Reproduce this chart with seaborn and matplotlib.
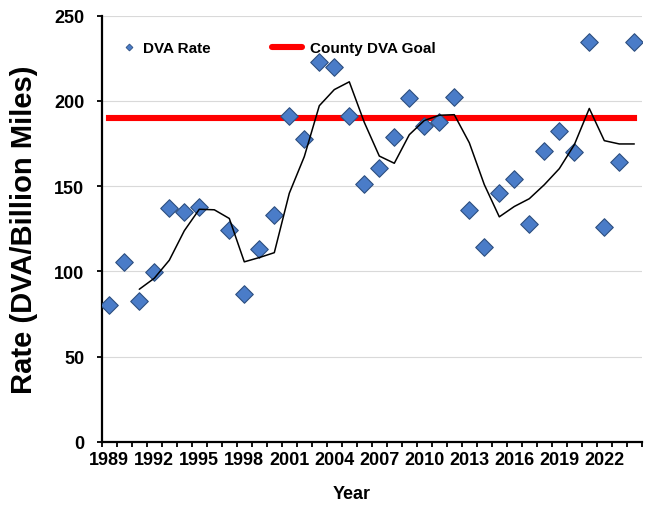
import numpy as np
import pandas as pd
import matplotlib
matplotlib.use("Agg")
import matplotlib.pyplot as plt
from matplotlib.lines import Line2D
import seaborn as sns

# ---- data ----
years = list(range(1989, 2025))
dva_rate = [80.4, 105.3, 82.7, 99.8, 137.0, 134.6, 137.6, np.nan, 124.4, 86.7,
            113.1, 133.0, 191.3, 177.6, 222.6, 219.7, 191.3, 151.2, 160.4, 178.6,
            201.5, 185.4, 187.8, 202.5, 136.0, 114.1, 145.8, 154.2, 127.8, 170.4,
            182.5, 169.8, 234.4, 125.8, 164.0, 234.4]
goal_value = 190
label_years = list(range(1989, 2023, 3))
y_ticks = [0, 50, 100, 150, 200, 250]

df = pd.DataFrame({"Year": years, "Rate": dva_rate})
# 3-period moving average trendline (as in the source chart)
df["MA"] = df["Rate"].rolling(3, min_periods=1).mean()
ma_df = df.iloc[2:]

sns.set_style("white")
plt.rcParams["font.family"] = ["Liberation Sans", "DejaVu Sans"]
plt.rcParams["font.weight"] = "bold"
plt.rcParams["text.color"] = "black"
plt.rcParams["axes.labelcolor"] = "black"
plt.rcParams["xtick.color"] = "black"
plt.rcParams["ytick.color"] = "black"

W, H = 651, 506
fig = plt.figure(figsize=(W / 100, H / 100), dpi=100)
x0, x1, ytop, ybot = 101.8, 641.8, 16.7, 442.7
ax = fig.add_axes([x0 / W, (H - ybot) / H, (x1 - x0) / W, (ybot - ytop) / H])

# grid
ax.set_axisbelow(True)
ax.yaxis.grid(True, color="#D9D9D9", lw=0.8)
ax.xaxis.grid(False)

# goal line
ax.plot([years[0], years[-1]], [goal_value, goal_value], color="#FF0000",
        lw=4.4, solid_capstyle="projecting", zorder=2)

# data points
sns.scatterplot(data=df, x="Year", y="Rate", marker="D", s=80,
                color="#4A7CC8", edgecolor="#2E4F80", linewidth=0.8,
                ax=ax, zorder=3, legend=False)

# moving average line
sns.lineplot(data=ma_df, x="Year", y="MA", color="black", lw=1.1,
             ax=ax, zorder=4, legend=False)

ax.set_xlim(1988.5, 2024.5)
ax.set_ylim(0, 250)
ax.set_yticks(y_ticks)
ax.set_xticks(label_years)
ax.set_xticks(np.arange(1988.5, 2025, 1.0), minor=True)
ax.tick_params(axis="x", which="major", length=0, pad=7, labelsize=13,
               labelcolor="black")
ax.tick_params(axis="x", which="minor", length=3.5, width=1.3, direction="out",
               color="black", bottom=True)
ax.tick_params(axis="y", which="major", length=3.5, width=1.3, direction="out",
               color="black", pad=9, labelsize=13, left=True, labelcolor="black")
for lab in ax.get_xticklabels() + ax.get_yticklabels():
    lab.set_fontweight("bold")

for s in ["top", "right"]:
    ax.spines[s].set_visible(False)
for s in ["left", "bottom"]:
    ax.spines[s].set_color("black")
    ax.spines[s].set_linewidth(1.6)

ax.set_xlabel("Year", fontsize=13, fontweight="bold", color="black")
ax.set_ylabel("Rate (DVA/Billion Miles)", fontsize=21, fontweight="bold",
              color="black")
ax.xaxis.set_label_coords((352 - x0) / (x1 - x0), -0.102)
ax.yaxis.set_label_coords((38 - x0) / (x1 - x0), 0.5)

# legends
h1 = Line2D([], [], marker="D", ls="none", ms=3.5, markerfacecolor="#4A7CC8",
            markeredgecolor="#2E4F80", markeredgewidth=0.6)
h2 = Line2D([], [], color="#FF0000", lw=4.4)
leg1 = ax.legend([h1], ["DVA Rate"], loc="center left", frameon=False,
                 bbox_to_anchor=(122.7 / W, 1 - 49.3 / H),
                 bbox_transform=fig.transFigure, handlelength=0.82,
                 handletextpad=0.5, borderpad=0, borderaxespad=0,
                 prop={"size": 11, "weight": "bold"}, labelcolor="black")
ax.add_artist(leg1)
ax.legend([h2], ["County DVA Goal"], loc="center left", frameon=False,
          bbox_to_anchor=(272 / W, 1 - 49.3 / H),
          bbox_transform=fig.transFigure, handlelength=1.96,
          handletextpad=0.52, borderpad=0, borderaxespad=0,
          prop={"size": 11, "weight": "bold"}, labelcolor="black")

fig.savefig("out.png", dpi=100)
